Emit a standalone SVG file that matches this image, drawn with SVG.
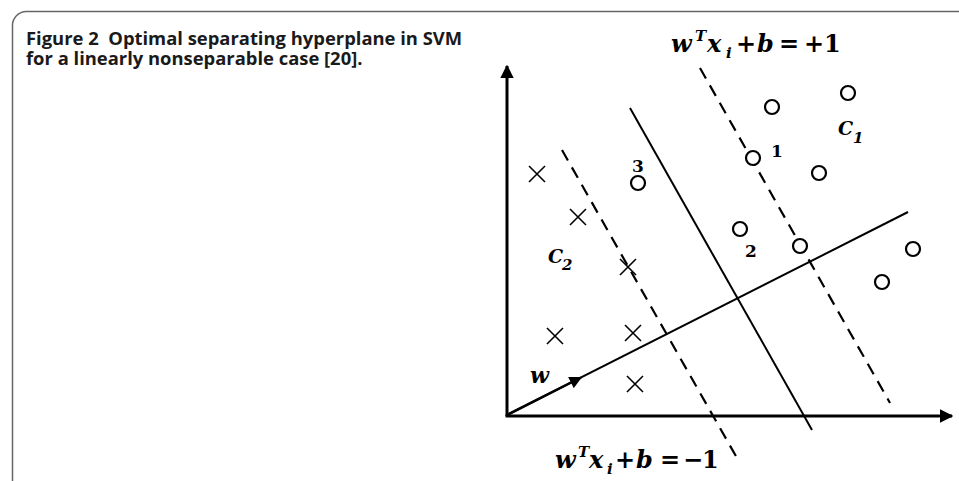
<svg xmlns="http://www.w3.org/2000/svg" width="959" height="481" viewBox="0 0 959 481">
<defs>
<style>
.cap{font-family:"Open Sans","Noto Sans",sans-serif;font-weight:bold;font-size:18.4px;fill:#1a1a1a;white-space:pre}
.m{font-family:"DejaVu Serif",serif;font-weight:bold;font-size:24px;fill:#000}
.mi{font-style:italic}
.sm{font-size:15px}
.num{font-family:"DejaVu Serif",serif;font-weight:bold;font-size:17px;fill:#000}
.ax{stroke:#000;stroke-width:3;fill:none}
.hp{stroke:#000;stroke-width:2;fill:none}
.dash{stroke:#000;stroke-width:2.2;fill:none;stroke-dasharray:12 8}
.pt{fill:#fff;stroke:#000;stroke-width:2.2}
.x{stroke:#000;stroke-width:1.6;fill:none}
</style>
<marker id="ah" viewBox="0 0 10 10" refX="9" refY="5" markerWidth="4.6" markerHeight="4.6" markerUnits="strokeWidth" orient="auto">
<path d="M0,0 L10,5 L0,10 z" fill="#000"/>
</marker>
<marker id="ahw" viewBox="0 0 10 10" refX="9" refY="5" markerWidth="5.5" markerHeight="5" markerUnits="strokeWidth" orient="auto">
<path d="M0,0 L10,5 L0,10 z" fill="#000"/>
</marker>
</defs>
<rect width="959" height="481" fill="#fff"/>
<path d="M12.5 481 V26 A14 14 0 0 1 26.5 11.5 H959" fill="none" stroke="#666" stroke-width="1.5"/>
<text class="cap" x="26" y="45" xml:space="preserve">Figure 2  Optimal separating hyperplane in SVM</text>
<text class="cap" x="26" y="64.5">for a linearly nonseparable case [20].</text>

<g id="connectors">
<line class="ax" x1="507" y1="416" x2="507" y2="66" marker-end="url(#ah)"/>
<line class="ax" x1="505.5" y1="416" x2="952" y2="416" marker-end="url(#ah)"/>
<line class="hp" x1="507" y1="415" x2="908" y2="212"/>
<line x1="507" y1="415" x2="581" y2="377.5" stroke="#000" stroke-width="2.5" marker-end="url(#ahw)"/>
<line class="hp" x1="630" y1="108" x2="812" y2="430"/>
<line class="dash" x1="700" y1="68" x2="890" y2="403"/>
<line class="dash" x1="562" y1="150" x2="737" y2="458"/>
</g>

<g id="circles">
<circle class="pt" cx="772" cy="107" r="7"/>
<circle class="pt" cx="848" cy="93" r="7"/>
<circle class="pt" cx="753" cy="158" r="7"/>
<circle class="pt" cx="819" cy="173" r="7"/>
<circle class="pt" cx="638" cy="183" r="7"/>
<circle class="pt" cx="740" cy="229" r="7"/>
<circle class="pt" cx="800" cy="246" r="7"/>
<circle class="pt" cx="913" cy="249" r="7"/>
<circle class="pt" cx="882" cy="282" r="7"/>
</g>

<g id="crosses">
<path class="x" d="M529 166 l16 16 M545 166 l-16 16"/>
<path class="x" d="M570 209 l16 16 M586 209 l-16 16"/>
<path class="x" d="M620 259 l16 16 M636 259 l-16 16"/>
<path class="x" d="M547 328 l16 16 M563 328 l-16 16"/>
<path class="x" d="M625 325 l16 16 M641 325 l-16 16"/>
<path class="x" d="M627 376 l16 16 M643 376 l-16 16"/>
</g>

<g id="labels">
<text class="num" x="777" y="157" text-anchor="middle">1</text>
<text class="num" x="638" y="172" text-anchor="middle">3</text>
<text class="num" x="751" y="257" text-anchor="middle">2</text>
<text class="m mi" x="838" y="135" style="font-size:19px">C</text>
<text class="m mi sm" x="853" y="143">1</text>
<text class="m mi" x="548" y="263" style="font-size:19px">C</text>
<text class="m mi sm" x="562" y="270">2</text>
<text class="m mi" x="530" y="383" style="font-size:22px">w</text>
</g>

<g id="eq-top" class="m">
<text class="mi" x="671" y="52">w</text>
<text class="mi sm" x="695" y="41">T</text>
<text class="mi" x="707" y="52">x</text>
<text class="mi sm" x="726" y="58">i</text>
<text x="736" y="52">+</text>
<text class="mi" x="757" y="52">b</text>
<text x="779" y="52">=</text>
<text x="804" y="52">+</text>
<text x="824" y="52">1</text>
</g>

<g id="eq-bottom" class="m">
<text class="mi" x="555" y="468">w</text>
<text class="mi sm" x="578" y="457">T</text>
<text class="mi" x="589" y="468">x</text>
<text class="mi sm" x="607" y="474">i</text>
<text x="615" y="468">+</text>
<text class="mi" x="636" y="468">b</text>
<text x="660" y="468">=</text>
<text x="683" y="468">−</text>
<text x="702" y="468">1</text>
</g>
</svg>
